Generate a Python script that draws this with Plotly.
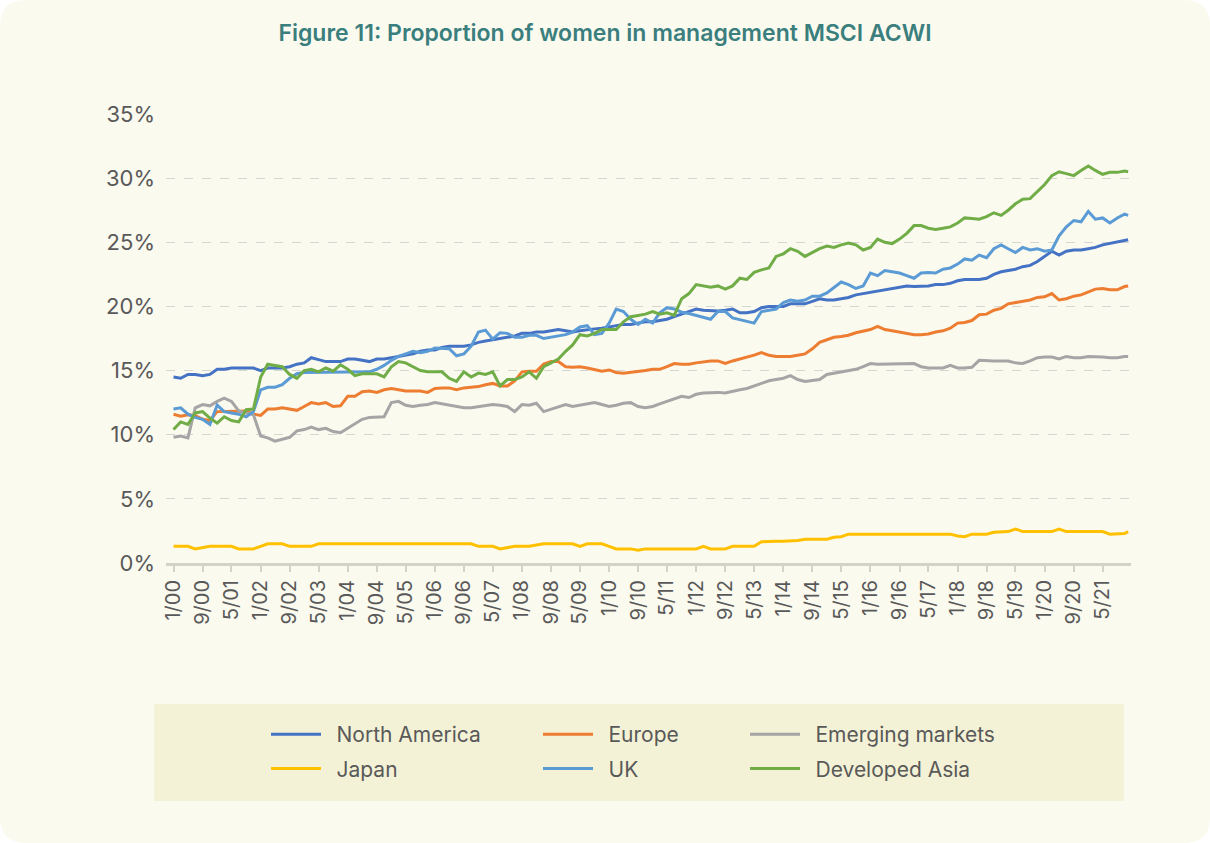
import pandas as pd
import plotly.graph_objects as go

# readings taken every second month from Jan 2000, plus the last month (Dec 2021)
months = list(pd.date_range("2000-01-01", periods=132, freq="2MS")) + [pd.Timestamp("2021-12-01")]

north_america = [
    14.5, 14.4, 14.7, 14.7, 14.6, 14.7, 15.1, 15.1, 15.2, 15.2, 15.2, 15.2,
    15.0, 15.2, 15.2, 15.2, 15.3, 15.5, 15.6, 16.0, 15.85, 15.7, 15.7, 15.7,
    15.9, 15.9, 15.8, 15.7, 15.9, 15.9, 16.0, 16.1, 16.2, 16.3, 16.5, 16.6,
    16.6, 16.8, 16.9, 16.9, 16.9, 17.0, 17.2, 17.3, 17.4, 17.5, 17.6, 17.7,
    17.9, 17.9, 18.0, 18.0, 18.1, 18.2, 18.1, 18.0, 18.1, 18.2, 18.25, 18.3,
    18.4, 18.5, 18.6, 18.6, 18.7, 18.8, 18.8, 18.9, 19.0, 19.2, 19.4, 19.6,
    19.8, 19.7, 19.65, 19.65, 19.7, 19.8, 19.5, 19.5, 19.6, 19.9, 20.0, 20.0,
    20.0, 20.2, 20.2, 20.2, 20.4, 20.6, 20.5, 20.5, 20.6, 20.7, 20.9, 21.0,
    21.1, 21.2, 21.3, 21.4, 21.55, 21.6, 21.55, 21.55, 21.6, 21.7, 21.7, 21.8,
    22.0, 22.1, 22.1, 22.1, 22.2, 22.5, 22.7, 22.8, 22.9, 23.1, 23.2, 23.5,
    23.9, 24.3, 24.0, 24.3, 24.4, 24.4, 24.5, 24.6, 24.8, 24.9, 25.0, 25.15,
    25.2,
]
europe = [
    11.6, 11.45, 11.55, 11.5, 11.2, 11.1, 11.8, 11.8, 11.85, 11.85, 11.85, 11.6,
    11.5, 12.0, 12.0, 12.1, 12.0, 11.9, 12.2, 12.5, 12.4, 12.5, 12.2, 12.25,
    13.0, 13.0, 13.35, 13.4, 13.3, 13.5, 13.6, 13.5, 13.4, 13.4, 13.4, 13.3,
    13.6, 13.65, 13.65, 13.5, 13.65, 13.7, 13.75, 13.9, 14.0, 13.8, 13.8, 14.2,
    14.9, 14.95, 14.95, 15.5, 15.7, 15.7, 15.3, 15.25, 15.3, 15.2, 15.1, 14.95,
    15.05, 14.85, 14.8, 14.85, 14.9, 15.0, 15.1, 15.1, 15.3, 15.55, 15.5, 15.5,
    15.6, 15.7, 15.75, 15.75, 15.55, 15.75, 15.9, 16.0, 16.2, 16.4, 16.2, 16.1,
    16.1, 16.1, 16.2, 16.3, 16.7, 17.2, 17.4, 17.6, 17.65, 17.75, 17.95, 18.1,
    18.2, 18.45, 18.2, 18.1, 18.0, 17.9, 17.8, 17.8, 17.85, 18.0, 18.1, 18.3,
    18.7, 18.75, 18.9, 19.35, 19.4, 19.7, 19.85, 20.2, 20.3, 20.35, 20.5, 20.7,
    20.75, 21.0, 20.5, 20.6, 20.8, 20.9, 21.1, 21.35, 21.4, 21.3, 21.3, 21.55,
    21.6,
]
emerging = [
    9.8, 9.9, 9.75, 12.1, 12.35, 12.25, 12.6, 12.85, 12.6, 11.85, 11.7, 11.55,
    9.9, 9.75, 9.5, 9.65, 9.8, 10.3, 10.4, 10.6, 10.4, 10.5, 10.25, 10.15,
    10.5, 10.8, 11.2, 11.35, 11.4, 11.4, 12.5, 12.6, 12.3, 12.2, 12.3, 12.35,
    12.5, 12.4, 12.35, 12.2, 12.1, 12.1, 12.2, 12.3, 12.35, 12.3, 12.2, 11.8,
    12.35, 12.3, 12.45, 11.8, 12.0, 12.2, 12.35, 12.2, 12.3, 12.35, 12.5, 12.35,
    12.2, 12.3, 12.45, 12.5, 12.2, 12.1, 12.2, 12.4, 12.6, 12.85, 13.0, 12.9,
    13.15, 13.25, 13.3, 13.3, 13.25, 13.4, 13.5, 13.6, 13.8, 14.0, 14.2, 14.3,
    14.4, 14.6, 14.3, 14.15, 14.2, 14.3, 14.7, 14.8, 14.9, 14.95, 15.1, 15.3,
    15.55, 15.5, 15.5, 15.5, 15.5, 15.55, 15.55, 15.3, 15.2, 15.2, 15.2, 15.4,
    15.2, 15.2, 15.25, 15.8, 15.75, 15.75, 15.75, 15.75, 15.6, 15.55, 15.75, 16.0,
    16.05, 16.05, 15.9, 16.1, 16.0, 16.0, 16.1, 16.1, 16.05, 16.0, 16.0, 16.1,
    16.1,
]
japan = [
    1.3, 1.3, 1.3, 1.1, 1.2, 1.3, 1.3, 1.3, 1.3, 1.1, 1.1, 1.1,
    1.3, 1.5, 1.5, 1.5, 1.3, 1.3, 1.3, 1.3, 1.5, 1.5, 1.5, 1.5,
    1.5, 1.5, 1.5, 1.5, 1.5, 1.5, 1.5, 1.5, 1.5, 1.5, 1.5, 1.5,
    1.5, 1.5, 1.5, 1.5, 1.5, 1.5, 1.3, 1.3, 1.3, 1.1, 1.2, 1.3,
    1.3, 1.3, 1.4, 1.5, 1.5, 1.5, 1.5, 1.5, 1.3, 1.5, 1.5, 1.5,
    1.3, 1.1, 1.1, 1.1, 1.0, 1.1, 1.1, 1.1, 1.1, 1.1, 1.1, 1.1,
    1.1, 1.3, 1.1, 1.1, 1.1, 1.3, 1.3, 1.3, 1.3, 1.65, 1.7, 1.7,
    1.7, 1.7, 1.75, 1.85, 1.85, 1.85, 1.85, 2.0, 2.05, 2.25, 2.25, 2.25,
    2.25, 2.25, 2.25, 2.25, 2.25, 2.25, 2.25, 2.25, 2.25, 2.25, 2.25, 2.25,
    2.1, 2.05, 2.25, 2.25, 2.25, 2.4, 2.45, 2.45, 2.65, 2.45, 2.45, 2.45,
    2.45, 2.45, 2.65, 2.45, 2.45, 2.45, 2.45, 2.45, 2.45, 2.25, 2.25, 2.3,
    2.45,
]
uk = [
    12.0, 12.1, 11.6, 11.35, 11.2, 10.8, 12.3, 11.8, 11.7, 11.6, 11.4, 11.8,
    13.5, 13.7, 13.7, 13.9, 14.4, 14.75, 14.85, 14.85, 14.9, 14.9, 14.9, 14.9,
    14.9, 14.85, 14.9, 14.9, 15.1, 15.4, 15.8, 16.1, 16.3, 16.5, 16.4, 16.5,
    16.75, 16.7, 16.7, 16.15, 16.3, 16.9, 18.0, 18.15, 17.45, 17.95, 17.9, 17.6,
    17.6, 17.75, 17.75, 17.5, 17.6, 17.7, 17.8, 18.0, 18.4, 18.5, 17.8, 17.9,
    18.7, 19.8, 19.6, 19.0, 18.6, 19.0, 18.7, 19.5, 19.9, 19.8, 19.55, 19.45,
    19.3, 19.1, 19.0, 19.6, 19.6, 19.1, 18.95, 18.85, 18.7, 19.6, 19.7, 19.8,
    20.3, 20.5, 20.4, 20.5, 20.8, 20.8, 21.05, 21.5, 21.9, 21.7, 21.4, 21.6,
    22.6, 22.4, 22.8, 22.7, 22.6, 22.4, 22.2, 22.6, 22.65, 22.6, 22.9, 23.0,
    23.3, 23.7, 23.6, 24.0, 23.8, 24.5, 24.8, 24.5, 24.2, 24.6, 24.4, 24.5,
    24.3, 24.4, 25.5, 26.2, 26.7, 26.6, 27.4, 26.8, 26.9, 26.5, 26.9, 27.2,
    27.1,
]
developed_asia = [
    10.4, 11.0, 10.8, 11.7, 11.8, 11.3, 10.9, 11.4, 11.1, 11.0, 11.95, 12.0,
    14.5, 15.5, 15.4, 15.3, 14.7, 14.4, 15.0, 15.1, 14.9, 15.2, 14.95, 15.45,
    15.1, 14.6, 14.75, 14.75, 14.75, 14.5, 15.3, 15.7, 15.6, 15.3, 15.0, 14.9,
    14.9, 14.9, 14.4, 14.15, 14.9, 14.5, 14.8, 14.7, 14.9, 13.8, 14.3, 14.3,
    14.5, 14.9, 14.4, 15.3, 15.6, 15.9, 16.5, 17.0, 17.8, 17.7, 17.9, 18.2,
    18.2, 18.2, 18.8, 19.2, 19.3, 19.4, 19.6, 19.4, 19.5, 19.3, 20.6, 21.0,
    21.7, 21.6, 21.5, 21.6, 21.35, 21.6, 22.2, 22.1, 22.65, 22.85, 23.0, 23.9,
    24.1, 24.5, 24.3, 23.9, 24.2, 24.5, 24.7, 24.6, 24.8, 24.95, 24.8, 24.4,
    24.6, 25.25, 25.0, 24.9, 25.25, 25.7, 26.3, 26.3, 26.1, 26.0, 26.1, 26.2,
    26.5, 26.9, 26.85, 26.8, 27.0, 27.3, 27.1, 27.5, 28.0, 28.35, 28.4, 28.95,
    29.5, 30.2, 30.5, 30.35, 30.2, 30.6, 30.95, 30.6, 30.3, 30.45, 30.45, 30.55,
    30.5,
]

series = [
    ("North America", north_america, "#4472C4", "legend"),
    ("Europe", europe, "#ED7D31", "legend2"),
    ("Emerging markets", emerging, "#A5A5A5", "legend3"),
    ("Japan", japan, "#FFC000", "legend"),
    ("UK", uk, "#5B9BD5", "legend2"),
    ("Developed Asia", developed_asia, "#70AD47", "legend3"),
]

W, H = 1210, 843
L, R, T, B = 166, 79, 114, 280
PW, PH = W - L - R, H - T - B
FONT = "Inter, Arial, sans-serif"
TEXT = "#595959"
CREAM = "#FBFAEF"


def px(x):
    # figure pixel -> paper x
    return (x - L) / PW


def py(y):
    # figure pixel -> paper y
    return (H - B - y) / PH


fig = go.Figure()
for name, vals, color, leg in series:
    # en space in front of the name: a little more room after the legend line
    fig.add_trace(go.Scatter(x=months, y=vals, name="\u2002" + name, mode="lines",
                             line=dict(color=color, width=3),
                             legend=leg, legendgroup=name,
                             hovertemplate="%{y:.1f}%"))

# cream panel with rounded corners behind everything
r = 26
x0, x1, y0, y1 = px(0), px(W), py(H), py(0)
rx, ry = r / PW, r / PH
panel = (f"M{x0 + rx},{y1} L{x1 - rx},{y1} Q{x1},{y1} {x1},{y1 - ry} "
         f"L{x1},{y0 + ry} Q{x1},{y0} {x1 - rx},{y0} L{x0 + rx},{y0} "
         f"Q{x0},{y0} {x0},{y0 + ry} L{x0},{y1 - ry} Q{x0},{y1} {x0 + rx},{y1} Z")
fig.add_shape(type="path", path=panel, xref="paper", yref="paper",
              fillcolor=CREAM, line_width=0, layer="below")
# legend band
fig.add_shape(type="rect", xref="paper", yref="paper",
              x0=px(154), x1=px(1124), y0=py(801), y1=py(704),
              fillcolor="#F4F2D6", line_width=0, layer="below")

leg_common = dict(orientation="v", xanchor="left", yanchor="top",
                  bgcolor="rgba(0,0,0,0)", tracegroupgap=4, itemwidth=50,
                  font=dict(family=FONT, size=21, color=TEXT))

fig.update_layout(
    width=W, height=H,
    margin=dict(l=L, r=R, t=T, b=B),
    paper_bgcolor="white",
    plot_bgcolor="rgba(0,0,0,0)",
    title=dict(text="Figure 11: Proportion of women in management MSCI ACWI",
               x=0.5, xref="container", xanchor="center",
               y=1 - 33 / H, yref="container", yanchor="middle",
               font=dict(family=FONT, size=23, color="#3A7F7D", weight=600)),
    legend=dict(x=px(266), y=py(714), **leg_common),
    legend2=dict(x=px(538), y=py(714), **leg_common),
    legend3=dict(x=px(745), y=py(714), **leg_common),
    showlegend=True,
    hovermode="x unified",
)
fig.update_xaxes(
    type="date", range=["1999-10-30", "2021-12-25"],
    tick0="2000-01-01", dtick="M8", tickformat="%-m/%y", tickangle=-90,
    ticks="outside", ticklen=6, tickwidth=1.5, tickcolor="#D4D4C6",
    showline=True, linecolor="#D4D4C6", linewidth=3, showgrid=False,
    tickfont=dict(family=FONT, size=20, color=TEXT),
)
fig.update_yaxes(
    range=[0, 35], dtick=5, ticksuffix="%",
    showgrid=True, gridcolor="#D6D6D0", griddash="dash", gridwidth=1.2,
    zeroline=False, showline=False, ticklabelstandoff=10,
    tickfont=dict(family=FONT, size=22, color=TEXT),
)

# the page body has a default margin; drop it so the figure fills the window
fig.write_html("out.html", config={"displayModeBar": False},
               post_script="document.body.style.margin='0';")
